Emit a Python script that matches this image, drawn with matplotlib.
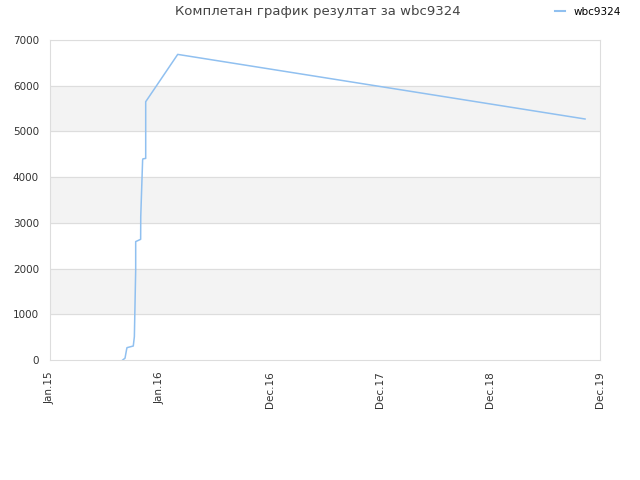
import matplotlib
matplotlib.use('Agg')
from matplotlib import pyplot as plt
from matplotlib.lines import Line2D

# x in tick units (0 = Jan.15, 1 = Jan.16, ... 5 = Dec.19)
x_pos = [0.661, 0.682, 0.697, 0.700, 0.757, 0.767, 0.779, 0.779, 0.824, 0.825, 0.836,
         0.842, 0.845, 0.870, 0.870, 1.161, 4.864]
scores = [0, 40, 240, 270, 306, 510, 1970, 2590, 2640, 3135, 3940,
          4375, 4400, 4410, 5650, 6685, 5272]
tick_labels = ['Jan.15', 'Jan.16', 'Dec.16', 'Dec.17', 'Dec.18', 'Dec.19']
player = 'wbc9324'

fig = plt.figure(figsize=(6.4, 4.8), dpi=100)
ax = fig.add_axes([50 / 640, 120 / 480, 550 / 640, 320 / 480])

for lo in [1000, 3000, 5000]:
    ax.axhspan(lo, lo + 1000, color='#f3f3f3', zorder=0)
for y in range(1000, 8000, 1000):
    ax.axhline(y, color='#dddddd', lw=0.8, zorder=1)

ax.plot(x_pos, scores, color='#90c0f0', lw=1.1, zorder=3)

ax.set_xlim(0, 5)
ax.set_ylim(0, 7000)
ax.set_xticks(range(len(tick_labels)))
ax.set_xticklabels(tick_labels, rotation=90, fontsize=7.5, color='#333333')
ax.set_yticks(range(0, 8000, 1000))
ax.tick_params(axis='y', labelsize=7.5, colors='#333333', length=0, pad=8)
ax.tick_params(axis='x', length=0, pad=8)
for s in ax.spines.values():
    s.set_color('#dddddd')

fig.text(318 / 640, 1 - 12 / 480, 'Комплетан график резултат за ' + player,
         ha='center', va='center', fontsize=9.5, color='#444444')
handle = Line2D([], [], color='#90c0f0', lw=1.5)
fig.legend([handle], [player], loc='center', bbox_to_anchor=(588 / 640, 1 - 12 / 480),
           frameon=False, fontsize=7.5, handlelength=1.0, handletextpad=0.8)

fig.savefig('out.png', dpi=100)
